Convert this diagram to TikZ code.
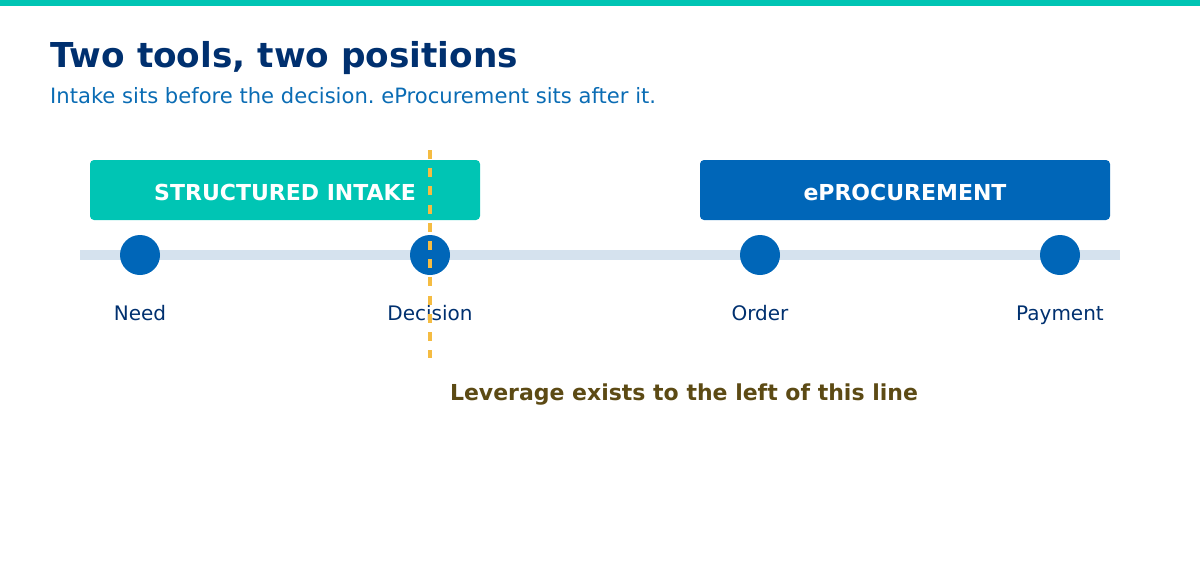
\documentclass[tikz,border=0pt]{standalone}
\usepackage{fontspec}
\setmainfont{DejaVu Sans}
\usetikzlibrary{positioning}
\frenchspacing
\definecolor{teal1}{HTML}{00C5B4}
\definecolor{blue1}{HTML}{0066B8}
\definecolor{navy1}{HTML}{00306F}
\definecolor{sub1}{HTML}{0A6CB4}
\definecolor{track1}{HTML}{D5E2EE}
\definecolor{gold1}{HTML}{F5BC42}
\definecolor{brown1}{HTML}{5C4A14}
\tikzset{
  stage/.style={circle, fill=blue1, minimum size=40pt, inner sep=0pt},
  stagelabel/.style={anchor=base, text=navy1, font=\fontsize{20}{24}\selectfont},
  toolbox/.style={rounded corners=4pt, minimum width=#1, minimum height=60pt, inner sep=0pt},
  tooltext/.style={anchor=base, text=white, inner sep=0pt, font=\bfseries\fontsize{22}{26}\selectfont},
}
\begin{document}
\begin{tikzpicture}[x=1pt, y=-1pt]
      \useasboundingbox (0,0) rectangle (1200,560);
      \fill[teal1] (0,0) rectangle (1200,6);

      \node[anchor=base west, text=navy1, inner sep=0pt, font=\bfseries\fontsize{34.3}{40}\selectfont] (title) at (50,67) {Two tools, two positions};
      \node[anchor=base west, text=sub1, inner sep=0pt, font=\fontsize{21.1}{25}\selectfont] (sub) at (50,103) {Intake sits before the decision. eProcurement sits after it.};

      \node[toolbox=390pt, fill=teal1] (b1) at (285,190) {};
      \node[tooltext] (b1t) at (285,200) {STRUCTURED INTAKE};
      \node[toolbox=410pt, fill=blue1] (b2) at (905,190) {};
      \node[tooltext] (b2t) at (905,200) {ePROCUREMENT};

      \coordinate (t0) at (80,255);
      \coordinate (t1) at (1120,255);
      \draw[track1, line width=10pt] (t0) -- (t1);

      \node[stage] (s1) at (140,255) {};
      \node[stage] (s2) at (430,255) {};
      \node[stage] (s3) at (760,255) {};
      \node[stage] (s4) at (1060,255) {};

      \node[stagelabel] (l1) at (140,320) {Need};
      \node[stagelabel] (l2) at (430,320) {Decision};
      \node[stagelabel] (l3) at (760,320) {Order};
      \node[stagelabel] (l4) at (1060,320) {Payment};

      \coordinate (d0) at (430,150);
      \coordinate (d1) at (430,358);
      \draw[gold1, line width=4pt, dash pattern=on 9pt off 9.2pt] (d0) -- (d1);

      \node[anchor=base, text=brown1, inner sep=0pt, font=\bfseries\fontsize{22}{26}\selectfont] (lev) at (684,400) {Leverage exists to the left of this line};
    \end{tikzpicture}
\end{document}
